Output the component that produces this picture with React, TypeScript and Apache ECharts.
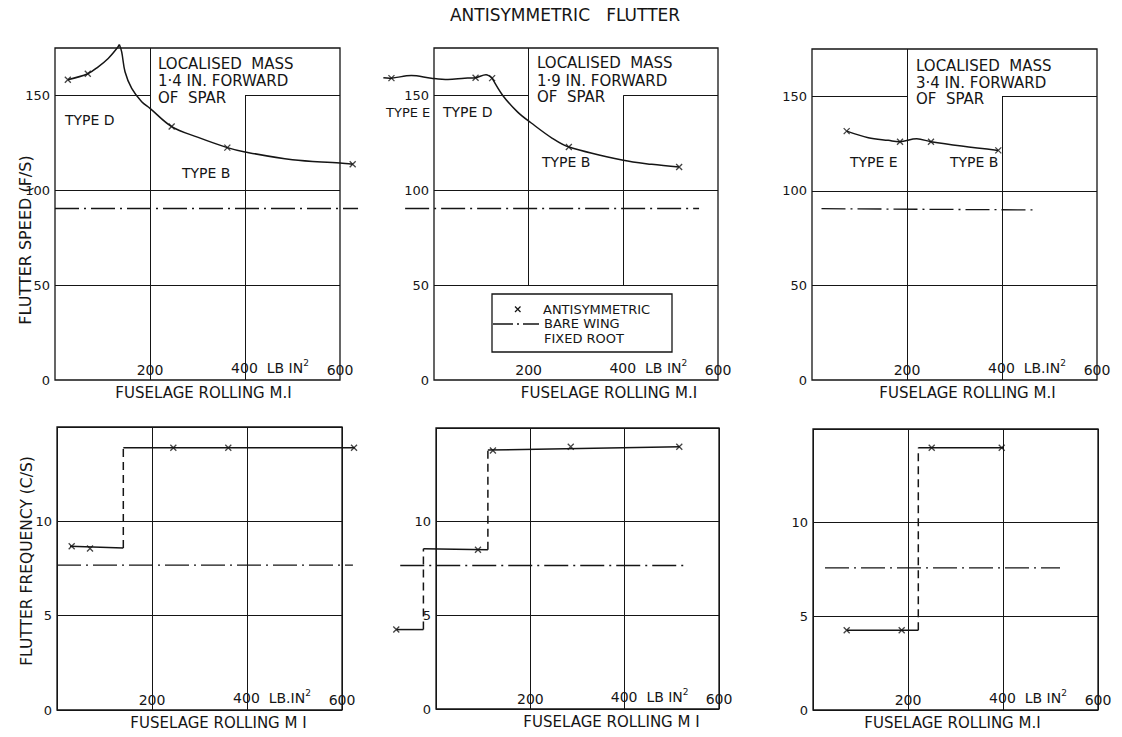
import React, { useEffect, useRef } from "react";
import * as echarts from "echarts";

const INK = "#151515";
const FONT = "DejaVu Sans";

// ---------- tick values ----------
const xTicks = [0, 200, 400, 600];
const speedTicks = [0, 50, 100, 150];
const freqTicks = [0, 5, 10];

// ---------- panel 1: localised mass 1·4 in. forward of spar (flutter speed) ----------
const p1TypeD = [[27, 158.3], [69, 161.4], [91, 165.1], [112, 169.5], [130, 174.7], [135.4, 176.8]];
const p1TypeB = [[135.4, 176.8], [140.4, 173], [147.4, 162.5], [161.5, 153.7], [182.5, 146.7], [200, 143.2], [245.6, 133.6], [300, 128], [362.8, 122.5], [400, 120.2], [500, 116.1], [600, 114.4], [626.7, 113.7]];
const p1Points = [[27, 158.3], [69, 161.4], [245.6, 133.6], [362.8, 122.5], [626.7, 113.7]];
const p1Bare = [[0, 90.4], [638, 90.4]];

// ---------- panel 2: 1·9 in. forward ----------
const p2TypeED = [[-107, 159.3], [-89.9, 159.1], [-47.8, 160.5], [-5.7, 159.1], [29.5, 158.4], [64.6, 159.1], [87.8, 159.3], [110, 160.9], [122.8, 159.1]];
const p2TypeB = [[122.8, 159.1], [145.3, 150], [176.8, 141.2], [204.8, 135.6], [250, 127.4], [284.9, 122.8], [400, 115.8], [460, 113.7], [517.9, 112.3]];
const p2Points = [[-89.9, 159.1], [87.8, 159.3], [122.8, 159.1], [284.9, 122.8], [517.9, 112.3]];
const p2Bare = [[-61, 90.4], [560, 90.4]];

// ---------- panel 3: 3·4 in. forward ----------
const p3Curve = [[73, 131.6], [118.6, 128.1], [160.7, 126.7], [185.3, 126], [220.4, 127.5], [250.5, 126], [315, 123.7], [392.2, 121.4]];
const p3Points = [[73, 131.6], [185.3, 126], [250.5, 126], [392.2, 121.4]];
const p3Bare = [[20, 90.6], [469, 89.9]];

// ---------- panel 4: flutter frequency, 1·4 in. ----------
const p4Solid = [[[27.4, 8.68], [139.6, 8.58]], [[139.6, 13.9], [627, 13.9]]];
const p4Dashed = [[[139.6, 8.58], [139.6, 13.9]]];
const p4Points = [[30.9, 8.68], [69.5, 8.56], [244.9, 13.9], [360.6, 13.9], [625.3, 13.9]];
const p4Bare = [[0, 7.68], [623, 7.68]];

// ---------- panel 5: flutter frequency, 1·9 in. ----------
const p5Solid = [[[-84.2, 4.24], [-26.7, 4.24]], [[-26.7, 8.55], [110, 8.5]], [[110, 13.82], [517, 14.0]]];
const p5Dashed = [[[-26.7, 4.24], [-26.7, 8.55]], [[110, 8.5], [110, 13.82]]];
const p5Points = [[-84.2, 4.24], [89, 8.5], [120.7, 13.8], [285.7, 14.0], [515.8, 14.0]];
const p5Bare = [[-75.8, 7.66], [527.8, 7.66]];

// ---------- panel 6: flutter frequency, 3·4 in. ----------
const p6Solid = [[[70.9, 4.26], [221.7, 4.26]], [[221.7, 14.0], [400.6, 14.0]]];
const p6Dashed = [[[221.7, 4.26], [221.7, 14.0]]];
const p6Points = [[70.9, 4.26], [186.7, 4.26], [249.9, 14.0], [397.3, 14.0]];
const p6Bare = [[25.3, 7.59], [520, 7.59]];

// ---------- partial grid rulings of the speed panels (data space) ----------
const p1Rules = [[[0, 50], [600, 50]], [[0, 100], [600, 100]], [[0, 150], [200, 150]], [[400, 150], [600, 150]], [[200, 0], [200, 175]], [[400, 0], [400, 150]]];
const p2Rules = [[[0, 50], [600, 50]], [[0, 100], [600, 100]], [[0, 150], [200, 150]], [[400, 150], [600, 150]], [[200, 50], [200, 175]], [[400, 50], [400, 150]]];
const p3Rules = [[[0, 50], [600, 50]], [[0, 100], [600, 100]], [[0, 150], [200, 150]], [[400, 150], [600, 150]], [[200, 0], [200, 175]], [[400, 0], [400, 150]]];

// ---------- texts ----------
const title = "ANTISYMMETRIC   FLUTTER";
const xNames = ["FUSELAGE ROLLING M.I", "FUSELAGE ROLLING M.I", "FUSELAGE ROLLING M.I", "FUSELAGE ROLLING M I", "FUSELAGE ROLLING M I", "FUSELAGE ROLLING M.I"];
const xUnits = ["LB IN", "LB IN", "LB.IN", "LB.IN", "LB IN", "LB IN"];
const speedName = "FLUTTER SPEED (F/S)";
const freqName = "FLUTTER FREQUENCY (C/S)";

const CROSS = "path://M0 0L10 10M10 0L0 10";
const DASHDOT = [24, 5, 2, 5];
const DASHED = [8, 5];

const grids = [
  { left: 55, top: 48, width: 285, height: 332 },
  { left: 434, top: 48, width: 284, height: 332 },
  { left: 812, top: 49, width: 285, height: 331 },
  { left: 57, top: 427, width: 285, height: 283 },
  { left: 436, top: 428, width: 283, height: 281 },
  { left: 813, top: 429, width: 285, height: 281 },
];
const xNamePads = [[0, 0, 0, 12], [0, 0, 0, 66], [0, 0, 0, 26], [0, 0, 0, 38], [0, 0, 0, 68], [0, 6, 0, 0]];

// A polyline drawn through the axes' own scales (api.coord), not clipped to the grid.
function curveSeries(idx: number, data: number[][], opts: { smooth?: number; dash?: number[]; width?: number; z?: number } = {}) {
  return {
    type: "custom",
    xAxisIndex: idx,
    yAxisIndex: idx,
    data,
    encode: { x: 0, y: 1 },
    clip: false,
    silent: true,
    z: opts.z ?? 3,
    renderItem: (params: any, api: any) => {
      if (params.dataIndex !== 0) return null;
      const points = data.map((p) => api.coord(p));
      return {
        type: "polyline",
        shape: { points, smooth: opts.smooth ?? 0 },
        style: {
          stroke: INK,
          fill: "none",
          lineWidth: opts.width ?? 1.5,
          lineDash: opts.dash ?? null,
        },
      };
    },
  };
}

function pointSeries(idx: number, data: number[][], rules?: number[][][]) {
  const s: any = {
    type: "scatter",
    xAxisIndex: idx,
    yAxisIndex: idx,
    data,
    symbol: CROSS,
    symbolSize: 6,
    clip: false,
    silent: true,
    z: 4,
    itemStyle: { color: INK, borderColor: INK, borderWidth: 1.3 },
  };
  if (rules) {
    s.markLine = {
      silent: true,
      symbol: ["none", "none"],
      label: { show: false },
      lineStyle: { type: "solid", color: INK, width: 1 },
      data: rules.map(([a, b]) => [{ coord: a }, { coord: b }]),
    };
  }
  return s;
}

function buildOption() {
  const isTop = (i: number) => i < 3;
  const xAxis = grids.map((_, i) => ({
    type: "value",
    gridIndex: i,
    min: xTicks[0],
    max: xTicks[xTicks.length - 1],
    interval: xTicks[1] - xTicks[0],
    axisLine: { show: false },
    axisTick: { show: false },
    splitLine: { show: !isTop(i), lineStyle: { color: INK, width: 1 } },
    axisLabel: {
      inside: true,
      margin: 3,
      color: INK,
      fontFamily: FONT,
      fontSize: 14,
      formatter: (v: number) =>
        v === 0 ? "" : v === 400 ? `{pad|}400{u|  ${xUnits[i]}}{s|2}` : String(v),
      rich: {
        pad: { width: 50 },
        u: { fontSize: 14, fontFamily: FONT, color: INK },
        s: { fontSize: 9, fontFamily: FONT, color: INK, padding: [0, 0, 10, 0] },
      },
    },
    name: xNames[i],
    nameLocation: "middle",
    nameGap: 5,
    nameMoveOverlap: false,
    nameTextStyle: { color: INK, fontFamily: FONT, fontSize: 15, verticalAlign: "top", padding: xNamePads[i] },
  }));

  const yAxis = grids.map((_, i) => {
    const ticks = isTop(i) ? speedTicks : freqTicks;
    const top = isTop(i) ? 175 : 15;
    const ax: any = {
      type: "value",
      gridIndex: i,
      min: ticks[0],
      max: top,
      interval: ticks[1] - ticks[0],
      axisLine: { show: false },
      axisTick: { show: false },
      splitLine: { show: !isTop(i), lineStyle: { color: INK, width: 1 } },
      axisLabel: {
        margin: 5,
        color: INK,
        fontFamily: FONT,
        fontSize: 13,
        formatter: (v: number) => (ticks.indexOf(v) >= 0 ? String(v) : ""),
      },
    };
    if (i === 0 || i === 3) {
      ax.name = i === 0 ? speedName : freqName;
      ax.nameLocation = "middle";
      ax.nameRotate = 90;
      ax.nameGap = 22;
      ax.nameMoveOverlap = false;
      ax.nameTextStyle = {
        color: INK,
        fontFamily: FONT,
        fontSize: i === 0 ? 16 : 15.5,
        padding: i === 0 ? [0, 52, 0, 0] : [0, 0, 0, 15],
      };
    }
    return ax;
  });

  const series: any[] = [];
  // panel 1
  series.push(curveSeries(0, p1Bare, { dash: DASHDOT, width: 1.3, z: 2 }));
  series.push(curveSeries(0, p1TypeD, { smooth: 0.35 }));
  series.push(curveSeries(0, p1TypeB, { smooth: 0.35 }));
  series.push(pointSeries(0, p1Points, p1Rules));
  // panel 2
  series.push(curveSeries(1, p2Bare, { dash: DASHDOT, width: 1.3, z: 2 }));
  series.push(curveSeries(1, p2TypeED, { smooth: 0.35 }));
  series.push(curveSeries(1, p2TypeB, { smooth: 0.35 }));
  series.push(pointSeries(1, p2Points, p2Rules));
  // panel 3
  series.push(curveSeries(2, p3Bare, { dash: DASHDOT, width: 1.3, z: 2 }));
  series.push(curveSeries(2, p3Curve, { smooth: 0.35 }));
  series.push(pointSeries(2, p3Points, p3Rules));
  // frequency panels
  const freq = [
    { idx: 3, solid: p4Solid, dashed: p4Dashed, pts: p4Points, bare: p4Bare },
    { idx: 4, solid: p5Solid, dashed: p5Dashed, pts: p5Points, bare: p5Bare },
    { idx: 5, solid: p6Solid, dashed: p6Dashed, pts: p6Points, bare: p6Bare },
  ];
  freq.forEach((f) => {
    series.push(curveSeries(f.idx, f.bare, { dash: DASHDOT, width: 1.3, z: 2 }));
    f.solid.forEach((seg) => series.push(curveSeries(f.idx, seg)));
    f.dashed.forEach((seg) => series.push(curveSeries(f.idx, seg, { dash: DASHED })));
    series.push(pointSeries(f.idx, f.pts));
  });

  const txt = (text: string, x: number, y: number, size = 14, align = "left") => ({
    type: "text",
    silent: true,
    z: 10,
    style: {
      text,
      x,
      y,
      fill: INK,
      font: `${size}px "${FONT}"`,
      align,
      verticalAlign: "middle",
      textAlign: align,
      textVerticalAlign: "middle",
    },
  });

  const graphic: any[] = [
    // panel 1 notes
    txt("LOCALISED  MASS", 158, 64, 15),
    txt("1·4 IN. FORWARD", 158, 81, 15),
    txt("OF  SPAR", 158, 98, 15),
    txt("TYPE D", 65, 120),
    txt("TYPE B", 182, 173),
    // panel 2 notes
    txt("LOCALISED  MASS", 537, 63, 15),
    txt("1·9 IN. FORWARD", 537, 81, 15),
    txt("OF  SPAR", 537, 97, 15),
    txt("TYPE E", 386, 112, 13),
    txt("TYPE D", 443, 112),
    txt("TYPE B", 542, 162),
    // panel 3 notes
    txt("LOCALISED  MASS", 916, 66, 15),
    txt("3·4 IN. FORWARD", 916, 83, 15),
    txt("OF  SPAR", 916, 99, 15),
    txt("TYPE E", 850, 162),
    txt("TYPE B", 950, 162),
    // legend box
    {
      type: "rect",
      silent: true,
      z: 9,
      shape: { x: 492, y: 294, width: 180, height: 58 },
      style: { fill: "#fff", stroke: INK, lineWidth: 1.3 },
    },
    { type: "line", silent: true, z: 10, shape: { x1: 515, y1: 306.5, x2: 520.5, y2: 312 }, style: { stroke: INK, lineWidth: 1.3 } },
    { type: "line", silent: true, z: 10, shape: { x1: 520.5, y1: 306.5, x2: 515, y2: 312 }, style: { stroke: INK, lineWidth: 1.3 } },
    txt("ANTISYMMETRIC", 543, 309.5, 13),
    {
      type: "line",
      silent: true,
      z: 10,
      shape: { x1: 493, y1: 324, x2: 539, y2: 324 },
      style: { stroke: INK, lineWidth: 1.3, lineDash: [20, 4, 2, 4] },
    },
    txt("BARE WING", 544, 323.5, 13),
    txt("FIXED ROOT", 544, 338, 13),
  ];

  return {
    animation: false,
    backgroundColor: "#ffffff",
    textStyle: { fontFamily: FONT, color: INK },
    title: {
      text: title,
      left: 565,
      top: 6,
      padding: 0,
      textAlign: "center",
      textStyle: { fontSize: 17, fontWeight: "normal", fontFamily: FONT, color: INK },
    },
    grid: grids.map((g) => ({
      ...g,
      show: true,
      borderColor: INK,
      borderWidth: 1.3,
      backgroundColor: "transparent",
      containLabel: false,
      outerBoundsMode: "none",
    })),
    xAxis,
    yAxis,
    series,
    graphic,
  };
}

export default function App() {
  const ref = useRef<HTMLDivElement>(null);
  useEffect(() => {
    if (!ref.current) return;
    const chart = echarts.init(ref.current, undefined, { renderer: "svg" });
    chart.setOption(buildOption() as any);
    return () => chart.dispose();
  }, []);
  return (
    <div
      ref={ref}
      style={{ position: "fixed", left: 0, top: 0, width: 1122, height: 737, background: "#fff" }}
    />
  );
}
